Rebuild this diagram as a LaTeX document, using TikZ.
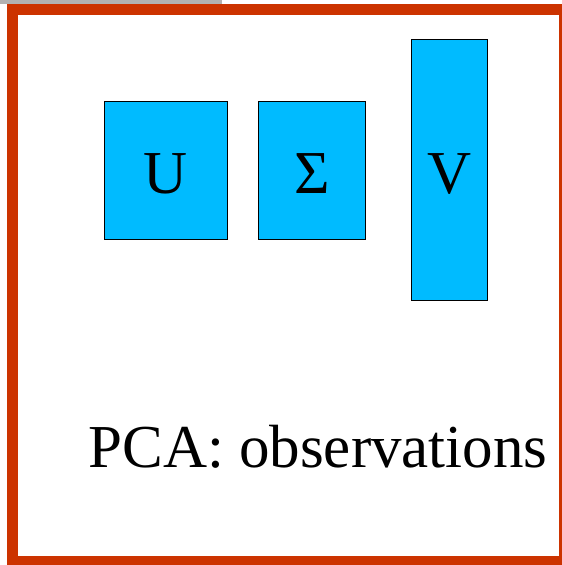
\documentclass[tikz,border=0pt]{standalone}
\usepackage{fontspec}
\setmainfont{Liberation Serif}
\definecolor{framered}{RGB}{204,51,0}
\definecolor{boxfill}{RGB}{0,187,255}
\definecolor{bargray}{RGB}{178,178,178}
\begin{document}
\begin{tikzpicture}[x=1pt,y=-1pt,
  mat/.style={draw=black, line width=1.3pt, fill=boxfill, inner sep=0pt,
    font=\fontsize{61}{61}\selectfont, text height=46pt, text depth=0pt},
  caption/.style={anchor=base, inner sep=0pt, font=\fontsize{61}{61}\selectfont}]
\useasboundingbox (0,0) rectangle (562,565);
\fill[white] (0,0) rectangle (562,565);
\fill[bargray] (0,0) rectangle (222,3.5);
\draw[framered, line width=11.5pt] (12.5,9.25) rectangle (564.5,561.5);
\node[mat, minimum width=123pt, minimum height=138pt] (U) at (166,170.5) {U};
\node[mat, minimum width=107pt, minimum height=138pt] (S) at (312,170.5) {Σ};
\node[mat, minimum width=76pt, minimum height=261pt] (V) at (449.5,170) {V};
\node[caption] (cap) at (318,467.5) {PCA: observations};
\end{tikzpicture}
\end{document}
